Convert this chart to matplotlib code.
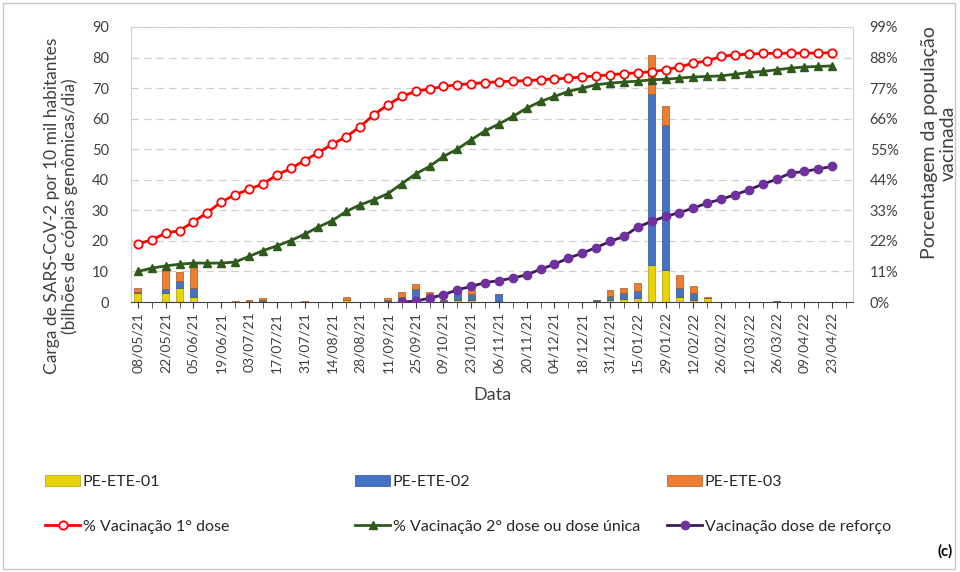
import numpy as np
import matplotlib
matplotlib.use('Agg')
import matplotlib.pyplot as plt
from matplotlib.patches import Rectangle

plt.rcParams['font.family'] = ['Lato', 'DejaVu Sans']

# rotulos do eixo x (a cada 2 semanas)
datas = ['08/05/21', '22/05/21', '05/06/21', '19/06/21', '03/07/21', '17/07/21', '31/07/21',
         '14/08/21', '28/08/21', '11/09/21', '25/09/21', '09/10/21', '23/10/21', '06/11/21',
         '20/11/21', '04/12/21', '18/12/21', '31/12/21', '15/01/22', '29/01/22', '12/02/22',
         '26/02/22', '12/03/22', '26/03/22', '09/04/22', '23/04/22']
n_semanas = 52

# carga viral (bilhoes de copias genomicas/dia por 10 mil hab.)
ete01 = [3.0, 0, 3.0, 4.7, 1.8, 0, 0, 0.1, 0.3, 0.4,
         0, 0, 0.1, 0, 0, 0.5, 0, 0, 0.4, 0.5,
         0.8, 0.3, 0.3, 0.5, 0.5, 0, 0.2, 0, 0, 0,
         0, 0, 0.1, 0.3, 0.5, 1.0, 1.2, 12.2, 10.5, 1.5,
         0.8, 1.2, 0, 0, 0, 0, 0, 0, 0, 0,
         0, 0]
ete02 = [0.3, 0, 1.2, 2.2, 2.9, 0, 0, 0, 0.1, 0.2,
         0, 0, 0, 0, 0, 0.2, 0, 0, 0.3, 1.0,
         3.5, 1.5, 0.3, 2.5, 2.2, 0, 2.5, 0, 0, 0,
         0, 0, 0, 0.2, 1.5, 2.0, 2.3, 55.9, 47.5, 3.0,
         2.0, 0, 0, 0, 0, 0, 0.2, 0, 0, 0,
         0, 0]
ete03 = [1.2, 0, 6.3, 2.9, 8.3, 0, 0, 0.2, 0.4, 0.6,
         0, 0, 0.2, 0, 0, 0.8, 0, 0, 0.5, 1.9,
         1.7, 1.6, 0.2, 0.8, 1.1, 0, 0, 0, 0, 0,
         0, 0, 0, 0.3, 1.8, 1.5, 2.7, 12.8, 6.2, 4.5,
         2.5, 0.6, 0, 0, 0, 0, 0, 0, 0, 0,
         0, 0]

# % da populacao vacinada
dose1 = [20.9, 22.4, 24.8, 25.7, 28.9, 32.2, 36.0, 38.6, 40.6, 42.5,
         45.7, 48.1, 50.9, 53.8, 56.8, 59.5, 63.1, 67.5, 71.0, 74.0,
         75.8, 76.7, 77.6, 78.2, 78.6, 79.0, 79.3, 79.5, 79.7, 80.0,
         80.3, 80.6, 81.0, 81.4, 81.8, 82.2, 82.5, 82.9, 83.6, 84.6,
         86.0, 86.8, 88.4, 89.0, 89.2, 89.5, 89.5, 89.6, 89.6, 89.6,
         89.8]
dose2 = [11.0, 12.2, 13.0, 13.6, 14.0, 14.0, 14.0, 14.4, 16.4, 18.5,
         20.2, 22.1, 24.4, 27.0, 29.3, 32.6, 35.0, 36.8, 39.0, 42.6,
         46.1, 48.8, 52.4, 55.0, 58.4, 61.6, 64.1, 66.8, 69.8, 72.2,
         74.0, 75.8, 77.0, 78.2, 78.8, 79.2, 79.5, 80.0, 80.2, 80.6,
         81.0, 81.2, 81.4, 82.0, 82.6, 83.0, 83.6, 84.2, 84.6, 84.8,
         85.0]
reforco = [np.nan] * 19 + [0, 0.3, 1.4, 2.6, 4.4, 5.6, 7.0, 7.7, 8.6, 9.8,
                           11.8, 13.6, 15.8, 17.6, 19.6, 21.8, 23.6, 27.0, 29.0, 30.8,
                           32.2, 33.8, 35.6, 37.0, 38.6, 40.4, 42.4, 44.2, 46.4, 47.0,
                           47.9, 48.8]

fig = plt.figure(figsize=(9.6, 5.72), dpi=100)
ax = fig.add_axes([131/960, 1-302/572, (853-131)/960, (302-27)/572])

x = np.arange(n_semanas)
a1 = np.array(ete01)
a2 = np.array(ete02)
a3 = np.array(ete03)
w = 0.5
ax.bar(x, a1, w, color='#E8D400', edgecolor='#A89A20', linewidth=0.5, label='PE-ETE-01', zorder=2)
ax.bar(x, a2, w, bottom=a1, color='#4472C4', edgecolor='#2F528F', linewidth=0.5, label='PE-ETE-02', zorder=2)
ax.bar(x, a3, w, bottom=a1+a2, color='#ED7D31', edgecolor='#A85A25', linewidth=0.5, label='PE-ETE-03', zorder=2)

ax.set_xlim(-0.5, n_semanas-0.5)
ax.set_ylim(0, 90)
ax.set_yticks(range(0, 91, 10))
ax.set_xticks(x, minor=True)
ax.set_xticks(x[:len(datas)*2:2])
ax.set_xticklabels(datas, rotation=90, fontsize=10, color='#404040')
ax.tick_params(axis='x', which='both', length=4, color='#404040', pad=3)
ax.tick_params(axis='y', length=0, labelsize=10.5, colors='#404040', pad=16)
ax.grid(axis='y', linestyle=(0, (6, 4)), color='#D0D0D0', linewidth=0.9, zorder=0)
for s in ['left', 'right', 'top']:
    ax.spines[s].set_color('#D0D0D0')
ax.spines['bottom'].set_color('#404040')
ax.set_xlabel('Data', fontsize=13, color='#404040', labelpad=10)

ax2 = ax.twinx()
xl = np.arange(len(dose1))
ax2.plot(xl, dose1, color='#FF0000', linewidth=2, marker='o', markersize=6,
         markerfacecolor='white', markeredgecolor='#FF0000', markeredgewidth=1.3,
         label='% Vacinação 1° dose', zorder=3)
ax2.plot(xl, dose2, color='#2E5A1C', linewidth=2, marker='^', markersize=6,
         markerfacecolor='#2E5A1C', markeredgecolor='#2E5A1C',
         label='% Vacinação 2° dose ou dose única', zorder=3)
ax2.plot(xl, reforco, color='#3A1D52', linewidth=2, marker='o', markersize=6,
         markerfacecolor='#7030A0', markeredgecolor='#7030A0',
         label='Vacinação dose de reforço', zorder=3)
ax2.set_ylim(0, 99)
ax2.set_yticks(range(0, 100, 11))
ax2.set_yticklabels([f'{v}%' for v in range(0, 100, 11)])
ax2.tick_params(axis='y', length=0, labelsize=10.5, colors='#404040', pad=12)
for s in ['left', 'right', 'top', 'bottom']:
    ax2.spines[s].set_visible(False)

# titulos dos eixos y
fig.text(61/960, 1-206/572, 'Carga de SARS-CoV-2 por 10 mil habitantes\n(bilhões de cópias genômicas/dia)',
         rotation=90, ha='center', va='center', multialignment='center',
         fontsize=12.5, color='#404040', linespacing=1.15)
fig.text(939/960, 1-143/572, 'Porcentagem da população\nvacinada',
         rotation=90, ha='center', va='center', multialignment='center',
         fontsize=14, color='#404040', linespacing=1.1)

# legenda em 3 colunas
h1, l1 = ax.get_legend_handles_labels()
h2, l2 = ax2.get_legend_handles_labels()
xs = [45/960, 355/960, 667/960]
for i in range(3):
    fig.legend([h1[i], h2[i]], [l1[i], l2[i]], loc='upper left', bbox_to_anchor=(xs[i], 1-475/572),
               frameon=False, fontsize=11.5, labelspacing=1.9, handlelength=2.2, handletextpad=0.15,
               borderpad=0, borderaxespad=0, labelcolor='#262626')

fig.text(945/960, 1-551/572, '(c)', fontsize=10.5, fontweight='bold', ha='center', va='center')
fig.patches.append(Rectangle((3/960, 3/572), 952/960, 566/572, transform=fig.transFigure,
                             fill=False, edgecolor='#C8C8C8', linewidth=1))

plt.savefig('out.png', dpi=100)
